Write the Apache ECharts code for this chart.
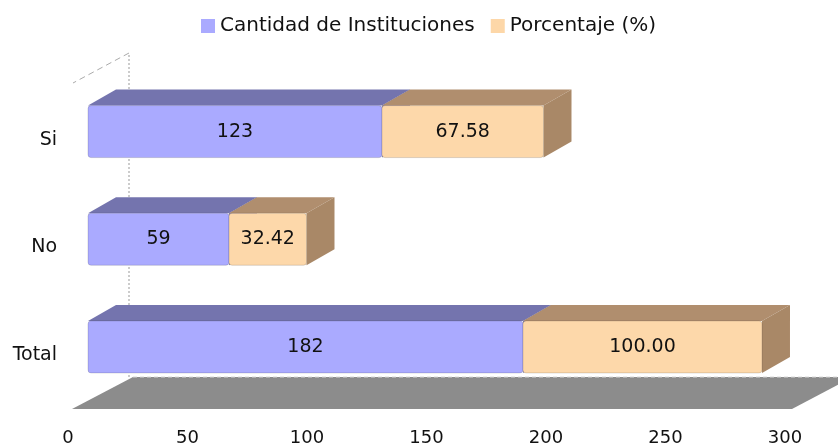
<!DOCTYPE html>
<html>
<head>
<meta charset="utf-8">
<script src="https://cdn.jsdelivr.net/npm/echarts@6/dist/echarts.min.js"></script>
<style>
  html, body { margin: 0; padding: 0; background: #fff; }
  #main { width: 838px; height: 448px; }
</style>
</head>
<body>
<div id="main"></div>
<script>
var chart = echarts.init(document.getElementById('main'));

var categories = ['Si', 'No', 'Total'];
var cantidad = [123, 59, 182];
var porcentaje = [67.58, 32.42, 100.00];
var xMin = 0, xMax = 300, xStep = 50;

var FONT = 'DejaVu Sans';
// 3d look: front face is pushed right of the axis, depth goes up-right
var SHIFT = 20, DX = 28, DY = -16;

function barData(starts, values) {
    return values.map(function (v, i) {
        return [starts[i], starts[i] + v, i];
    });
}

function renderBar(values, digits, front, topc, side) {
    return function (params, api) {
        var cat = api.value(2);
        var p0 = api.coord([api.value(0), cat]);
        var p1 = api.coord([api.value(1), cat]);
        var band = api.size([0, 1])[1];
        var x0 = p0[0] + SHIFT, x1 = p1[0] + SHIFT;
        var top = p0[1] - band * 0.318, bottom = p0[1] + band * 0.165;
        return {
            type: 'group',
            children: [
                { type: 'polygon', shape: { points: [[x0, top], [x0 + DX, top + DY], [x1 + DX, top + DY], [x1, top]] },
                  style: { fill: topc } },
                { type: 'polygon', shape: { points: [[x1, top], [x1 + DX, top + DY], [x1 + DX, bottom + DY], [x1, bottom]] },
                  style: { fill: side } },
                { type: 'rect', shape: { x: x0, y: top, width: x1 - x0, height: bottom - top, r: 3 },
                  style: { fill: front, stroke: 'rgba(0,0,0,0.14)', lineWidth: 1 } },
                { type: 'text', x: (x0 + x1) / 2, y: (top + bottom) / 2,
                  style: { text: values[params.dataIndex].toFixed(digits), fill: '#111',
                           font: '19px "DejaVu Sans"', align: 'center', verticalAlign: 'middle' } }
            ]
        };
    };
}

function renderFloor(params, api) {
    var a = api.coord([xMin, categories.length - 1]);
    var b = api.coord([xMax, categories.length - 1]);
    var band = api.size([0, 1])[1];
    var fy = a[1] + band / 2;            // front edge of the floor
    var gTop = a[1] - band * (categories.length - 0.5);
    var fx0 = a[0] + 4, fx1 = b[0] + 7;
    var bx = 61, by = -32;
    return {
        type: 'group',
        children: [
            { type: 'polygon', shape: { points: [[fx0, fy], [fx0 + bx, fy + by], [fx1 + bx, fy + by], [fx1, fy]] },
              style: { fill: '#8c8c8c' } },
            { type: 'line', shape: { x1: fx0 + bx, y1: fy + by, x2: fx1 + bx, y2: fy + by },
              style: { stroke: '#d8d8d8', lineWidth: 1, lineDash: [4, 3] } },
            { type: 'line', shape: { x1: fx0 + bx - 4, y1: fy + by, x2: fx0 + bx - 4, y2: gTop - 33 },
              style: { stroke: '#999', lineWidth: 1, lineDash: [2, 2] } },
            { type: 'line', shape: { x1: fx0 + bx - 4, y1: gTop - 33, x2: fx0 + 1, y2: gTop - 3 },
              style: { stroke: '#aaa', lineWidth: 1, lineDash: [6, 4] } }
        ]
    };
}

var option = {
    animation: false,
    textStyle: { fontFamily: FONT },
    legend: {
        top: 11,
        left: 196,
        icon: 'rect',
        itemWidth: 14,
        itemHeight: 14,
        itemGap: 16,
        textStyle: { fontSize: 20, color: '#111', fontFamily: FONT },
        data: ['Cantidad de Instituciones', 'Porcentaje (%)']
    },
    grid: { left: 68, right: 53, top: 86, bottom: 39 },
    xAxis: {
        type: 'value',
        min: xMin,
        max: xMax,
        interval: xStep,
        axisLine: { show: false },
        axisTick: { show: false },
        splitLine: { show: false },
        axisLabel: { fontSize: 18, color: '#111', margin: 20, fontFamily: FONT }
    },
    yAxis: {
        type: 'category',
        inverse: true,
        data: categories,
        axisLine: { show: false },
        axisTick: { show: false },
        axisLabel: { fontSize: 19, color: '#111', margin: 11, fontFamily: FONT }
    },
    series: [
        {
            type: 'custom',
            name: 'floor',
            silent: true,
            clip: false,
            renderItem: renderFloor,
            data: [[xMin, xMax, categories.length - 1]],
            encode: { x: [0, 1], y: 2 },
            z: 1
        },
        {
            type: 'custom',
            name: 'Cantidad de Instituciones',
            clip: false,
            itemStyle: { color: '#aaaaff' },
            renderItem: renderBar(cantidad, 0, '#aaaaff', '#7474ae', '#7474ae'),
            data: barData([0, 0, 0], cantidad),
            encode: { x: [0, 1], y: 2 },
            z: 2
        },
        {
            type: 'custom',
            name: 'Porcentaje (%)',
            clip: false,
            itemStyle: { color: '#fdd7a8' },
            renderItem: renderBar(porcentaje, 2, '#fdd8aa', '#b08e6e', '#a98867'),
            data: barData(cantidad, porcentaje),
            encode: { x: [0, 1], y: 2 },
            z: 3
        }
    ]
};

chart.setOption(option);
</script>
</body>
</html>
